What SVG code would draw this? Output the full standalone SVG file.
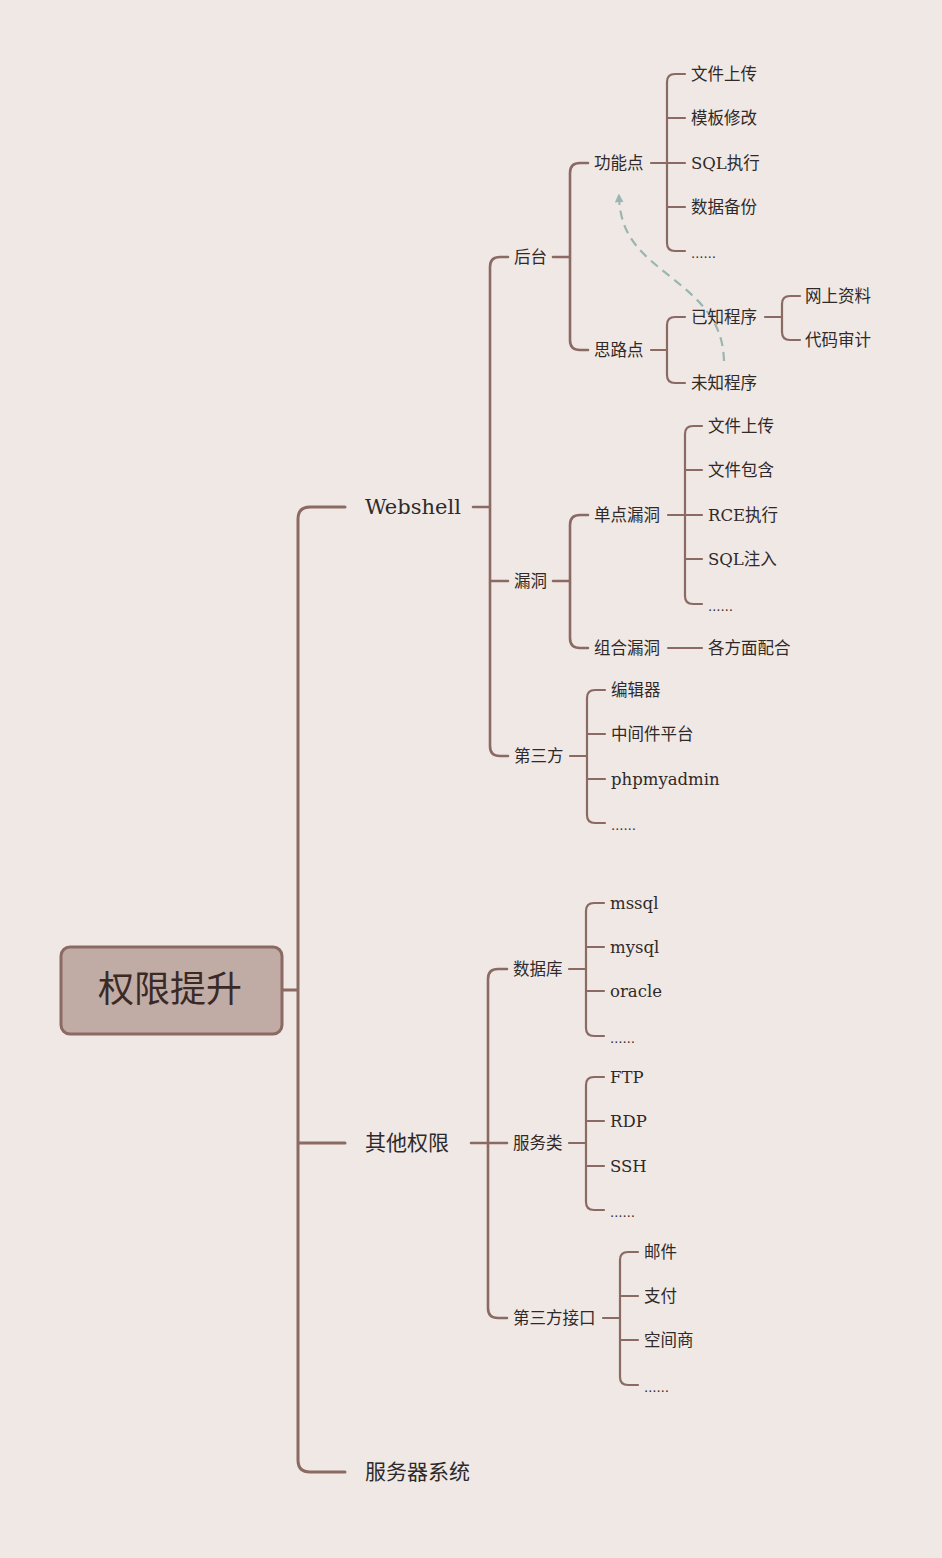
<svg xmlns="http://www.w3.org/2000/svg" width="942" height="1558" viewBox="0 0 942 1558">
<defs>
<style>
.bg{fill:#efe8e5}
.c{fill:none;stroke:#8b6a64;stroke-linecap:round;stroke-linejoin:round}
.w3{stroke-width:3}
.w25{stroke-width:2.6}
.w2{stroke-width:2.2}
text{font-family:"DejaVu Serif","Noto Sans CJK SC",serif;fill:#2f2a29}
.t1{font-size:21px}
.t2{font-size:16.5px}
.dots{font-size:12.5px}
.root{font-family:"Noto Sans CJK SC",sans-serif;font-size:36px;fill:#3a2a26}
.cjk{font-family:"Noto Sans CJK SC",sans-serif}
</style>
<marker id="ah" viewBox="0 0 10 10" refX="5" refY="5" markerWidth="4" markerHeight="4" orient="auto">
<path d="M0,0 L10,5 L0,10 z" fill="#9ab6b1"/>
</marker>
</defs>
<rect class="bg" x="0" y="0" width="942" height="1558"/>
<g id="connectors">
<path class="c w3" d="M283,990 H298 M345,507 H310 Q298,507 298,519 V1460 Q298,1472 310,1472 H345 M298,1143 H345"/>
<path class="c w25" d="M473,507 H490 M508,257 H500 Q490,257 490,267 V746 Q490,756 500,756 H508 M490,581 H508"/>
<path class="c w25" d="M553,257 H570 M588,163 H580 Q570,163 570,173 V340 Q570,350 580,350 H588"/>
<path class="c w2" d="M651,163 H667 M685,74 H675 Q667,74 667,82 V243 Q667,251 675,251 H685 M667,118 H685 M667,163 H685 M667,207 H685"/>
<path class="c w2" d="M651,350 H667 M685,317 H675 Q667,317 667,325 V375 Q667,383 675,383 H685"/>
<path class="c w2" d="M765,317 H782 M800,296 H790 Q782,296 782,304 V332 Q782,340 790,340 H800"/>
<path class="c w25" d="M553,581 H570 M588,515 H580 Q570,515 570,525 V638 Q570,648 580,648 H588"/>
<path class="c w2" d="M668,515 H685 M702,426 H693 Q685,426 685,434 V596 Q685,604 693,604 H702 M685,470 H702 M685,515 H702 M685,559 H702"/>
<path class="c w2" d="M668,648 H702"/>
<path class="c w2" d="M570,756 H587 M605,690 H595 Q587,690 587,698 V815 Q587,823 595,823 H605 M587,734 H605 M587,779 H605"/>
<path class="c w25" d="M471,1143 H488 M507,969 H498 Q488,969 488,979 V1308 Q488,1318 498,1318 H507 M488,1143 H507"/>
<path class="c w2" d="M569,969 H586 M604,903 H594 Q586,903 586,911 V1028 Q586,1036 594,1036 H604 M586,947 H604 M586,991 H604"/>
<path class="c w2" d="M569,1143 H586 M604,1077 H594 Q586,1077 586,1085 V1202 Q586,1210 594,1210 H604 M586,1121 H604 M586,1166 H604"/>
<path class="c w2" d="M603,1318 H620 M638,1252 H628 Q620,1252 620,1260 V1377 Q620,1385 628,1385 H638 M620,1296 H638 M620,1340 H638"/>
<path d="M724,361 C723,322 702,302 672,278 C642,254 621,238 619,198" fill="none" stroke="#9ab6b1" stroke-width="2.2" stroke-dasharray="9,6" marker-end="url(#ah)"/>
</g>
<g id="root"><rect x="61" y="947" width="221" height="87" rx="9" fill="#c1aca5" stroke="#8b6a64" stroke-width="3"/><text class="root" x="170" y="1002" text-anchor="middle">权限提升</text></g>
<g id="webshell"><text class="t1" x="365" y="514">Webshell</text></g>
<g id="qita"><text class="t1 cjk" x="365" y="1150">其他权限</text></g>
<g id="fuwuqi"><text class="t1 cjk" x="365" y="1479">服务器系统</text></g>
<g id="houtai"><text class="t2" x="514" y="263">后台</text></g>
<g id="gongneng"><text class="t2" x="594" y="169">功能点</text></g>
<g id="silu"><text class="t2" x="594" y="356">思路点</text></g>
<g id="wjsc1"><text class="t2" x="691" y="80">文件上传</text></g>
<g id="mbxg"><text class="t2" x="691" y="124">模板修改</text></g>
<g id="sqlzx"><text class="t2" x="691" y="169">SQL执行</text></g>
<g id="sjbf"><text class="t2" x="691" y="213">数据备份</text></g>
<g id="dots1"><text class="dots" x="691" y="258">……</text></g>
<g id="yzcx"><text class="t2" x="691" y="323">已知程序</text></g>
<g id="wzcx"><text class="t2" x="691" y="389">未知程序</text></g>
<g id="wszl"><text class="t2" x="805" y="302">网上资料</text></g>
<g id="dmsj"><text class="t2" x="805" y="346">代码审计</text></g>
<g id="loudong"><text class="t2" x="514" y="587">漏洞</text></g>
<g id="dandian"><text class="t2" x="594" y="521">单点漏洞</text></g>
<g id="zuhe"><text class="t2" x="594" y="654">组合漏洞</text></g>
<g id="wjsc2"><text class="t2" x="708" y="432">文件上传</text></g>
<g id="wjbh"><text class="t2" x="708" y="476">文件包含</text></g>
<g id="rce"><text class="t2" x="708" y="521">RCE执行</text></g>
<g id="sqlzr"><text class="t2" x="708" y="565">SQL注入</text></g>
<g id="dots2"><text class="dots" x="708" y="611">……</text></g>
<g id="gfmph"><text class="t2" x="708" y="654">各方面配合</text></g>
<g id="disanfang"><text class="t2" x="514" y="762">第三方</text></g>
<g id="bjq"><text class="t2" x="611" y="696">编辑器</text></g>
<g id="zjj"><text class="t2" x="611" y="740">中间件平台</text></g>
<g id="pma"><text class="t2" x="611" y="785">phpmyadmin</text></g>
<g id="dots3"><text class="dots" x="611" y="830">……</text></g>
<g id="sjk"><text class="t2" x="513" y="975">数据库</text></g>
<g id="mssql"><text class="t2" x="610" y="909">mssql</text></g>
<g id="mysql"><text class="t2" x="610" y="953">mysql</text></g>
<g id="oracle"><text class="t2" x="610" y="997">oracle</text></g>
<g id="dots4"><text class="dots" x="610" y="1043">……</text></g>
<g id="fwl"><text class="t2" x="513" y="1149">服务类</text></g>
<g id="ftp"><text class="t2" x="610" y="1083">FTP</text></g>
<g id="rdp"><text class="t2" x="610" y="1127">RDP</text></g>
<g id="ssh"><text class="t2" x="610" y="1172">SSH</text></g>
<g id="dots5"><text class="dots" x="610" y="1217">……</text></g>
<g id="dsfjk"><text class="t2" x="513" y="1324">第三方接口</text></g>
<g id="yj"><text class="t2" x="644" y="1258">邮件</text></g>
<g id="zf"><text class="t2" x="644" y="1302">支付</text></g>
<g id="kjs"><text class="t2" x="644" y="1346">空间商</text></g>
<g id="dots6"><text class="dots" x="644" y="1392">……</text></g>
</svg>
